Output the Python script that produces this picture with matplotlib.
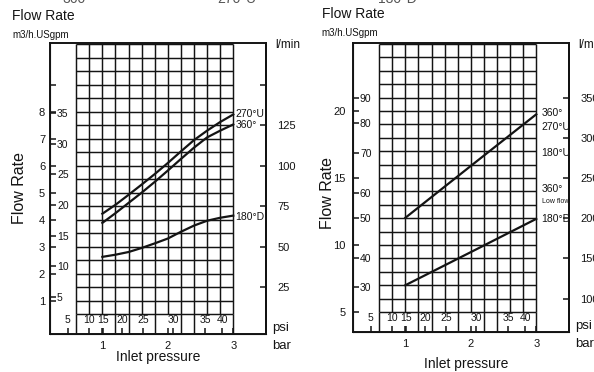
import numpy as np
import matplotlib.pyplot as plt

plt.rcParams['font.family'] = ['Liberation Sans', 'DejaVu Sans']

# pressure scale (bar on the axis, psi marks)
bar_ticks = [1, 2, 3]
psi_labels = ['5', '10', '15', '20', '25', '30', '35', '40']
psi_pos = [0.47, 0.80, 1.01, 1.30, 1.62, 2.08, 2.57, 2.83]

# left chart
left_p = [1.0, 1.2, 1.4, 1.6, 1.8, 2.0, 2.2, 2.4, 2.6, 2.8, 3.0]
left_270u = [4.22, 4.55, 4.92, 5.30, 5.69, 6.10, 6.53, 6.95, 7.30, 7.62, 7.90]
left_360 = [3.88, 4.24, 4.62, 5.00, 5.40, 5.82, 6.25, 6.67, 7.05, 7.30, 7.53]
left_180d = [2.62, 2.70, 2.80, 2.95, 3.12, 3.30, 3.55, 3.78, 3.96, 4.07, 4.15]
left_m3h = [1, 2, 3, 4, 5, 6, 7, 8, 9]
left_m3h_lab = ['1', '2', '3', '4', '5', '6', '7', '8', '']
left_gpm = [1.14, 2.27, 3.41, 4.54, 5.68, 6.81, 7.95]
left_gpm_lab = ['5', '10', '15', '20', '25', '30', '35']
left_lmin = [25, 50, 75, 100, 125, 150]
left_lmin_lab = ['25', '50', '75', '100', '125', '']

# right chart
right_p = [1.0, 2.0, 3.0]
right_upper = [12.03, 15.90, 19.75]
right_lower = [7.00, 9.47, 11.95]
right_m3h = [5, 10, 15, 20]
right_m3h_lab = ['5', '10', '15', '20']
right_gpm = [6.9, 9.0, 12.0, 13.85, 16.85, 19.1, 21.0]
right_gpm_lab = ['30', '40', '50', '60', '70', '80', '90']
right_lmin = [100, 150, 200, 250, 300, 350]
right_lmin_lab = ['100', '150', '200', '250', '300', '350']

ink = '#141414'


def panel(ax, ylim, grid_lo, grid_step, m3h, m3h_lab, gpm, gpm_lab, lmin, lmin_lab, ypad):
    ax.set_xlim(0.2, 3.5)
    ax.set_ylim(*ylim)
    gy = np.arange(grid_lo, ylim[1] + 0.01, grid_step)
    ax.hlines(gy, 0.6, 3.0, color=ink, lw=1.05)
    gx = np.arange(0.6, 3.01, 0.2)
    ax.vlines(gx, grid_lo, gy[-1], color=ink, lw=1.05)
    ax.vlines([0.6, 1.2, 1.4, 1.8, 2.2, 2.4, 3.0], ylim[0], grid_lo, color=ink, lw=1.05)
    for s in ax.spines.values():
        s.set_linewidth(1.4)
        s.set_color(ink)

    ax.set_yticks(m3h, m3h_lab)
    ax.tick_params(axis='y', direction='in', length=4, width=1.1, pad=ypad, labelsize=8, colors=ink)
    ax.set_xticks(bar_ticks, [str(b) for b in bar_ticks])
    ax.tick_params(axis='x', direction='in', length=4, width=1.1, pad=5, labelsize=8, colors=ink)

    ident = (lambda v: v, lambda v: v)
    g = ax.secondary_yaxis('left', functions=ident)
    g.set_yticks(gpm, gpm_lab)
    g.tick_params(direction='in', length=4, width=1.1, pad=-5, labelsize=7.5, colors=ink)
    for t in g.get_yticklabels():
        t.set_ha('left')

    r = ax.secondary_yaxis('right', functions=(lambda m: m * 1000 / 60, lambda l: l * 60 / 1000))
    r.set_yticks(lmin, lmin_lab)
    r.tick_params(direction='in', length=4, width=1.1, pad=8, labelsize=8, colors=ink)
    r.spines['right'].set_linewidth(1.4)

    p = ax.secondary_xaxis('bottom', functions=ident)
    p.set_xticks(psi_pos, psi_labels)
    p.tick_params(direction='in', length=4, width=1.1, pad=-6.5, labelsize=7.5, colors=ink)
    for t in p.get_xticklabels():
        t.set_va('bottom')

    ax.text(1.028, 0.02, 'psi', transform=ax.transAxes, fontsize=9.5, va='center', color=ink)
    ax.text(1.028, -0.041, 'bar', transform=ax.transAxes, fontsize=9.5, va='center', color=ink)
    ax.text(1.042, 0.993, 'l/min', transform=ax.transAxes, fontsize=8.5, va='center', color=ink)


fig = plt.figure(figsize=(5.94, 3.72), dpi=100)

ax1 = fig.add_axes([50 / 594, 38 / 372, 216 / 594, 291 / 372])
panel(ax1, (-0.24, 10.55), 0.5, 0.5, left_m3h, left_m3h_lab, left_gpm, left_gpm_lab,
      left_lmin, left_lmin_lab, 3.5)
ax1.plot(left_p, left_270u, color=ink, lw=1.6)
ax1.plot(left_p, left_360, color=ink, lw=1.6)
ax1.plot(left_p, left_180d, color=ink, lw=1.6)
ax1.text(3.03, 7.93, '270°U', fontsize=7.5, va='center', color=ink)
ax1.text(3.03, 7.5, '360°', fontsize=7.5, va='center', color=ink)
ax1.text(3.03, 4.1, '180°D', fontsize=7.5, va='center', color=ink)

ax2 = fig.add_axes([353 / 594, 40 / 372, 216 / 594, 289 / 372])
panel(ax2, (3.51, 25.07), 5, 1, right_m3h, right_m3h_lab, right_gpm, right_gpm_lab,
      right_lmin, right_lmin_lab, 5.5)
ax2.plot(right_p, right_upper, color=ink, lw=1.6)
ax2.plot(right_p, right_lower, color=ink, lw=1.6)
ax2.text(3.08, 19.83, '360°', fontsize=7.5, va='center', color=ink)
ax2.text(3.08, 18.83, '270°U', fontsize=7.5, va='center', color=ink)
ax2.text(3.08, 16.83, '180°U', fontsize=7.5, va='center', color=ink)
ax2.text(3.08, 14.2, '360°', fontsize=7.5, va='center', color=ink)
ax2.text(3.08, 13.25, 'Low flow', fontsize=5, va='center', color=ink)
ax2.text(3.08, 11.95, '180°D', fontsize=7.5, va='center', color=ink)

# headings
fig.text(12 / 594, 0.957, 'Flow Rate', fontsize=10, va='center', color=ink)
fig.text(12 / 594, 0.906, 'm3/h.USgpm', fontsize=7, va='center', color=ink)
fig.text(322 / 594, 0.962, 'Flow Rate', fontsize=10, va='center', color=ink)
fig.text(321 / 594, 0.911, 'm3/h.USgpm', fontsize=7, va='center', color=ink)
fig.text(20 / 594, 0.495, 'Flow Rate', fontsize=11.5, rotation=90, ha='center', va='center', color=ink)
fig.text(327 / 594, 0.48, 'Flow Rate', fontsize=11.5, rotation=90, ha='center', va='center', color=ink)
fig.text(158 / 594, 0.04, 'Inlet pressure', fontsize=10, ha='center', va='center', color=ink)
fig.text(466 / 594, 0.022, 'Inlet pressure', fontsize=10, ha='center', va='center', color=ink)

# captions of the charts above, cut off by the page edge
fig.text(77 / 594, 0.992, '360°', fontsize=10, ha='center', va='baseline', color='#555555')
fig.text(237 / 594, 0.992, '270°U', fontsize=10, ha='center', va='baseline', color='#555555')
fig.text(397 / 594, 0.992, '180°D', fontsize=10, ha='center', va='baseline', color='#555555')

fig.savefig('out.png', dpi=100)
